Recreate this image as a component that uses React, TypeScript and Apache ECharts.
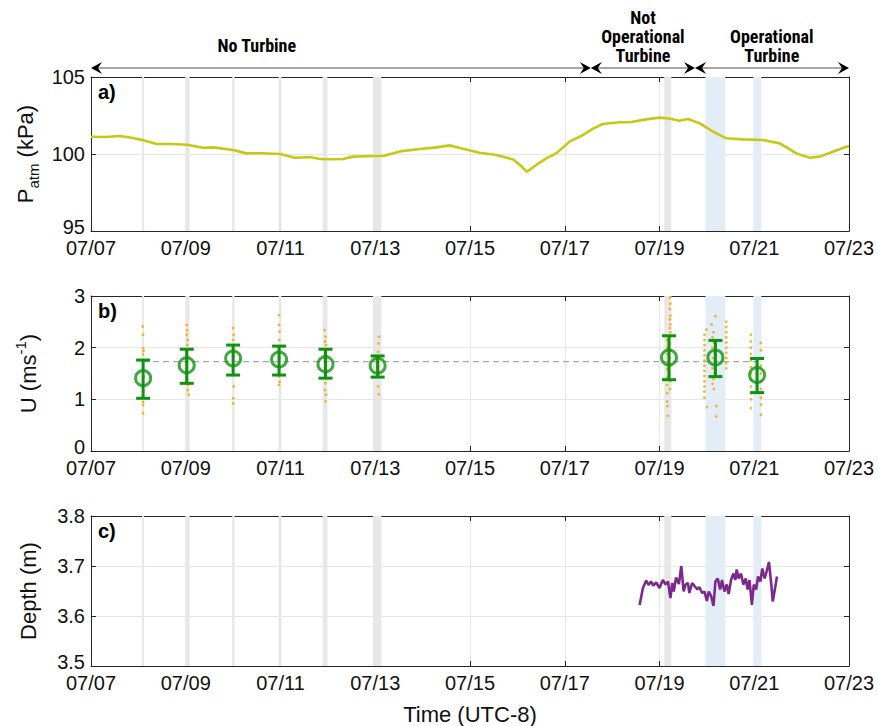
import React, { useEffect, useRef } from "react";
import * as echarts from "echarts";

// ---------- data ----------
const tickLabels = ["07/07", "07/09", "07/11", "07/13", "07/15", "07/17", "07/19", "07/21", "07/23"];

// days since 07/07 00:00
const pressureDays = [0, 0.3, 0.61, 0.85, 1.1, 1.39, 1.7, 2.02, 2.37, 2.58, 3.0, 3.28, 3.6, 3.99, 4.3, 4.62, 4.83, 5.1, 5.32, 5.53, 5.99, 6.17, 6.52, 6.94, 7.29, 7.57, 7.85, 8.2, 8.56, 8.91, 9.05, 9.2, 9.4, 9.61, 9.82, 10.1, 10.38, 10.6, 10.8, 11.16, 11.37, 11.72, 12.0, 12.2, 12.42, 12.6, 12.85, 13.13, 13.41, 13.76, 14.18, 14.54, 14.89, 15.17, 15.38, 15.66, 15.94, 16];
const pressureKPa = [101.12, 101.1, 101.17, 101.05, 100.9, 100.65, 100.65, 100.6, 100.41, 100.43, 100.26, 100.04, 100.05, 100.0, 99.76, 99.8, 99.68, 99.66, 99.68, 99.83, 99.87, 99.87, 100.17, 100.32, 100.43, 100.56, 100.34, 100.08, 99.93, 99.65, 99.3, 98.85, 99.29, 99.72, 100.04, 100.8, 101.23, 101.65, 101.95, 102.06, 102.06, 102.25, 102.36, 102.3, 102.16, 102.27, 101.99, 101.45, 101.02, 100.95, 100.91, 100.69, 100.04, 99.76, 99.83, 100.15, 100.47, 100.5];

const uMeanDays = [1.1, 2.02, 3.0, 3.97, 4.95, 6.05, 12.2, 13.18, 14.06];
const uMean = [1.41, 1.66, 1.79, 1.77, 1.68, 1.65, 1.81, 1.81, 1.47];
const uLow = [1.02, 1.31, 1.47, 1.47, 1.41, 1.43, 1.38, 1.44, 1.13];
const uHigh = [1.76, 1.97, 2.05, 2.03, 1.97, 1.84, 2.23, 2.14, 1.79];
const uOverallMean = 1.73;
const uMeanLineDays = [1.1, 14.06];

const uSamplesG1 = [[1.09, 2.41], [1.1, 2.25], [1.1, 1.99], [1.11, 1.94], [1.1, 1.87], [1.09, 1.72], [1.1, 1.57], [1.11, 1.45], [1.1, 1.34], [1.1, 1.15], [1.1, 0.95], [1.1, 0.89], [1.1, 0.73]];
const uSamplesG2 = [[2.02, 2.44], [2.03, 2.34], [2.02, 2.25], [2.04, 2.15], [2.03, 2.05], [2.02, 1.92], [2.05, 1.83], [2.03, 1.73], [2.02, 1.6], [2.04, 1.5], [2.03, 1.38], [2.05, 1.28], [2.04, 1.18], [2.06, 1.09]];
const uSamplesG3 = [[3.0, 2.38], [3.01, 2.25], [3.0, 2.15], [3.0, 1.99], [3.01, 1.85], [3.0, 1.67], [3.0, 1.47], [3.01, 1.25], [3.0, 1.02], [3.0, 0.92]];
const uSamplesG4 = [[3.97, 2.63], [3.97, 2.44], [3.98, 2.31], [3.97, 2.15], [3.97, 1.96], [3.98, 1.8], [3.97, 1.63], [3.97, 1.44], [3.98, 1.34], [3.97, 1.28]];
const uSamplesG5 = [[4.93, 2.34], [4.95, 2.21], [4.94, 2.12], [4.96, 2.05], [4.95, 1.96], [4.93, 1.86], [4.96, 1.76], [4.95, 1.63], [4.94, 1.5], [4.96, 1.41], [4.95, 1.31], [4.94, 1.18], [4.96, 1.09], [4.95, 0.96]];
const uSamplesG6 = [[6.08, 2.21], [6.07, 2.08], [6.06, 1.92], [6.08, 1.83], [6.07, 1.73], [6.06, 1.63], [6.08, 1.54], [6.07, 1.44], [6.06, 1.25], [6.08, 1.1]];
const uSamplesG7 = [[12.22, 2.97], [12.23, 2.85], [12.22, 2.75], [12.23, 2.62], [12.22, 2.55], [12.23, 2.45], [12.22, 2.38], [12.23, 2.3], [12.22, 2.22], [12.16, 2.15], [12.22, 2.08], [12.16, 2.0], [12.23, 1.95], [12.16, 1.88], [12.22, 1.8], [12.16, 1.72], [12.23, 1.65], [12.16, 1.58], [12.22, 1.5], [12.16, 1.42], [12.23, 1.35], [12.16, 1.28], [12.22, 1.2], [12.16, 1.12], [12.16, 0.96], [12.17, 0.87], [12.17, 0.68]];
const uSamplesG8 = [[12.95, 2.25], [12.95, 2.15], [12.95, 2.05], [12.95, 1.95], [12.95, 1.85], [12.95, 1.75], [12.95, 1.65], [12.95, 1.55], [12.95, 1.45], [12.95, 1.35], [12.95, 1.25], [12.95, 1.15], [12.95, 1.03], [12.99, 2.35], [13.0, 0.85], [13.1, 2.45], [13.14, 2.3], [13.12, 2.2], [13.15, 2.1], [13.12, 2.0], [13.16, 1.9], [13.13, 1.8], [13.15, 1.7], [13.12, 1.6], [13.16, 1.5], [13.14, 1.4], [13.12, 1.3], [13.15, 1.2], [13.2, 0.87], [13.2, 0.67], [13.18, 2.61], [13.41, 2.5], [13.41, 2.4], [13.41, 2.3], [13.41, 2.2], [13.41, 2.1], [13.41, 2.0], [13.41, 1.9], [13.41, 1.8], [13.41, 1.7], [13.41, 1.6]];
const uSamplesG9 = [[13.93, 2.25], [13.93, 2.12], [13.93, 2.0], [13.93, 1.88], [13.93, 1.75], [13.93, 1.62], [13.93, 1.5], [13.93, 1.38], [13.93, 1.25], [13.93, 1.12], [13.93, 1.0], [13.93, 0.83], [14.14, 2.09], [14.14, 1.95], [14.14, 1.8], [14.14, 1.65], [14.14, 1.5], [14.14, 1.35], [14.14, 1.2], [14.14, 1.03], [14.14, 0.9], [14.14, 0.7]];

const depthDays = [11.58, 11.65, 11.72, 11.77, 11.82, 11.87, 11.93, 12.0, 12.07, 12.13, 12.18, 12.23, 12.27, 12.3, 12.35, 12.41, 12.46, 12.51, 12.55, 12.6, 12.63, 12.69, 12.74, 12.8, 12.84, 12.9, 12.95, 13.0, 13.04, 13.09, 13.14, 13.18, 13.23, 13.28, 13.32, 13.37, 13.42, 13.46, 13.51, 13.56, 13.6, 13.63, 13.67, 13.72, 13.77, 13.82, 13.86, 13.9, 13.95, 13.99, 14.04, 14.08, 14.13, 14.17, 14.22, 14.25, 14.31, 14.36, 14.39, 14.44, 14.48];
const depthM = [3.622, 3.656, 3.671, 3.662, 3.669, 3.661, 3.667, 3.656, 3.672, 3.663, 3.669, 3.636, 3.666, 3.649, 3.677, 3.664, 3.7, 3.649, 3.663, 3.666, 3.646, 3.666, 3.66, 3.653, 3.658, 3.646, 3.649, 3.63, 3.649, 3.64, 3.62, 3.669, 3.675, 3.653, 3.672, 3.649, 3.663, 3.644, 3.672, 3.685, 3.672, 3.693, 3.675, 3.685, 3.663, 3.675, 3.653, 3.672, 3.622, 3.663, 3.653, 3.679, 3.669, 3.695, 3.675, 3.685, 3.708, 3.663, 3.629, 3.656, 3.679];

const greyBands = [[1.08, 1.12], [1.99, 2.08], [2.98, 3.03], [3.96, 4.02], [4.89, 4.99], [5.95, 6.13], [12.1, 12.25]];
const blueBands = [[12.97, 13.39], [13.98, 14.15]];

const periodBreaks = [0, 10.55, 12.75, 16];
const periodLabels = [["No Turbine"], ["Not", "Operational", "Turbine"], ["Operational", "Turbine"]];
const periodLabelDays = [3.5, 11.65, 14.37];

// ---------- styling ----------
const FONT = "Liberation Sans, Arial, Helvetica, sans-serif";
const NARROW = "Liberation Sans Narrow, Roboto Condensed, Liberation Sans, Arial, sans-serif";
const AX = "#262626";
const GRIDC = "#e6e6e6";
const GREEN = "#0f920f";
const ORANGE = "#f0a800";
const YELLOW = "#c8c814";
const PURPLE = "#7b2a8c";
const GREYBAND = "#e7e7e7";
const BLUEBAND = "#e2edf8";

const GL = 91, GW = 758;
const grids = [
  { left: GL, top: 77, width: GW, height: 154 },
  { left: GL, top: 296, width: GW, height: 155 },
  { left: GL, top: 516, width: GW, height: 154 },
];

const zip = (a: number[], b: number[]) => a.map((v, i) => [v, b[i]]);

export default function App() {
  const ref = useRef<HTMLDivElement>(null);
  useEffect(() => {
    document.body.style.margin = "0";
    const chart = echarts.init(ref.current!, undefined, { renderer: "svg" });

    const xAxes: any[] = [];
    const yAxes: any[] = [];
    const yCfg = [
      { min: 95, max: 105, interval: 5, fmt: (v: number) => String(v), name: "{a|P}{b|atm}{a| (kPa)}" },
      { min: 0, max: 3, interval: 1, fmt: (v: number) => String(v), name: "{a|U (ms}{c|-1}{a|)}" },
      { min: 3.5, max: 3.8, interval: 0.1, fmt: (v: number) => v.toFixed(1), name: "{a|Depth (m)}" },
    ];
    for (let i = 0; i < 3; i++) {
      xAxes.push({
        gridIndex: i, type: "value", min: 0, max: 16, interval: 2, position: "bottom",
        axisLine: { onZero: false, lineStyle: { color: AX, width: 1 } },
        axisTick: { inside: true, length: 5, lineStyle: { color: AX } },
        axisLabel: {
          formatter: (v: number) => tickLabels[Math.round(v / 2)], fontSize: 20, color: "#111",
          margin: 7, fontFamily: FONT, showMinLabel: true, showMaxLabel: true,
        },
        splitLine: { show: true, lineStyle: { color: GRIDC, width: 1 } },
        name: i === 2 ? "Time (UTC-8)" : "", nameLocation: "middle", nameGap: 37,
        nameTextStyle: { fontSize: 22, color: "#111", fontFamily: FONT },
      });
      xAxes.push({
        gridIndex: i, type: "value", min: 0, max: 16, interval: 2, position: "top",
        axisLine: { onZero: false, lineStyle: { color: AX, width: 1 } },
        axisTick: { inside: true, length: 5, lineStyle: { color: AX } },
        axisLabel: { show: false }, splitLine: { show: false },
      });
      const c = yCfg[i];
      yAxes.push({
        gridIndex: i, type: "value", min: c.min, max: c.max, interval: c.interval, position: "left",
        axisLine: { show: true, onZero: false, lineStyle: { color: AX, width: 1 } },
        axisTick: { show: true, inside: true, length: 5, lineStyle: { color: AX } },
        axisLabel: {
          formatter: (v: number) => (Math.abs(v - c.min) < 1e-9 ? `{lo|${c.fmt(v)}}` : c.fmt(v)),
          fontSize: 20, color: "#111", margin: 6, fontFamily: FONT,
          rich: { lo: { fontSize: 20, color: "#111", fontFamily: FONT, padding: [0, 0, 8, 0] } },
        },
        splitLine: { show: true, lineStyle: { color: GRIDC, width: 1 } },
        name: c.name, nameLocation: "middle", nameGap: 48, nameRotate: 90,
        nameTextStyle: {
          color: "#111", fontFamily: FONT,
          rich: {
            a: { fontSize: 22, lineHeight: 30, verticalAlign: "middle", fontFamily: FONT, color: "#111" },
            b: { fontSize: 15, lineHeight: 14, verticalAlign: "bottom", fontFamily: FONT, color: "#111" },
            c: { fontSize: 15, lineHeight: 14, verticalAlign: "top", fontFamily: FONT, color: "#111" },
          },
        },
      });
      yAxes.push({
        gridIndex: i, type: "value", min: c.min, max: c.max, interval: c.interval, position: "right",
        axisLine: { show: true, onZero: false, lineStyle: { color: AX, width: 1 } },
        axisTick: { show: true, inside: true, length: 5, lineStyle: { color: AX } },
        axisLabel: { show: false }, splitLine: { show: false },
      });
    }

    const bandData = [
      ...greyBands.map(([s, e]) => [{ xAxis: s, itemStyle: { color: GREYBAND } }, { xAxis: e }]),
      ...blueBands.map(([s, e]) => [{ xAxis: s, itemStyle: { color: BLUEBAND } }, { xAxis: e }]),
    ];

    const series: any[] = [];
    for (let i = 0; i < 3; i++) {
      series.push({
        type: "line", xAxisIndex: i * 2, yAxisIndex: i * 2, data: [], z: 1, silent: true,
        markArea: { silent: true, data: bandData, itemStyle: { opacity: 1 } },
      });
    }
    series.push({
      type: "line", xAxisIndex: 0, yAxisIndex: 0, data: zip(pressureDays, pressureKPa),
      showSymbol: false, lineStyle: { color: YELLOW, width: 2.6 }, z: 5,
    });
    const allSamples = [uSamplesG1, uSamplesG2, uSamplesG3, uSamplesG4, uSamplesG5, uSamplesG6, uSamplesG7, uSamplesG8, uSamplesG9].flat();
    series.push({
      type: "scatter", xAxisIndex: 2, yAxisIndex: 2, data: allSamples,
      symbol: "circle", symbolSize: 2.8, itemStyle: { color: ORANGE }, z: 4,
    });
    series.push({
      type: "line", xAxisIndex: 2, yAxisIndex: 2,
      data: uMeanLineDays.map((d) => [d, uOverallMean]),
      showSymbol: false, lineStyle: { color: "#a8a8a8", width: 1.2, type: [6, 4] }, z: 3,
    });
    series.push({
      type: "custom", xAxisIndex: 2, yAxisIndex: 2, z: 6,
      data: uMeanDays.map((d, i) => [d, uMean[i], uLow[i], uHigh[i]]),
      renderItem: (params: any, api: any) => {
        const x = api.value(0);
        const p = api.coord([x, api.value(2)]);
        const q = api.coord([x, api.value(3)]);
        const hw = 7;
        const st = { stroke: GREEN, lineWidth: 3 };
        return {
          type: "group",
          children: [
            { type: "line", shape: { x1: p[0], y1: p[1], x2: q[0], y2: q[1] }, style: st },
            { type: "line", shape: { x1: p[0] - hw, y1: p[1], x2: p[0] + hw, y2: p[1] }, style: st },
            { type: "line", shape: { x1: q[0] - hw, y1: q[1], x2: q[0] + hw, y2: q[1] }, style: st },
          ],
        };
      },
    });
    series.push({
      type: "scatter", xAxisIndex: 2, yAxisIndex: 2, z: 7,
      data: zip(uMeanDays, uMean), symbol: "circle", symbolSize: 15,
      itemStyle: { color: "rgba(0,0,0,0)", borderColor: GREEN, borderWidth: 3 },
    });
    series.push({
      type: "line", xAxisIndex: 4, yAxisIndex: 4, data: zip(depthDays, depthM),
      showSymbol: false, lineStyle: { color: PURPLE, width: 2.6 }, z: 5,
    });

    chart.setOption({
      animation: false,
      backgroundColor: "#ffffff",
      grid: grids,
      xAxis: xAxes,
      yAxis: yAxes,
      series,
    });

    // annotations built from the axis scale
    const px = (d: number) => chart.convertToPixel({ xAxisIndex: 0 }, d) as number;
    const yA = grids[0].top - 9;
    const graphic: any[] = [];
    const head = (xTip: number, dir: number) => ({
      type: "polygon",
      shape: { points: [[xTip, yA], [xTip - dir * 11, yA - 6], [xTip - dir * 7, yA], [xTip - dir * 11, yA + 6]] },
      style: { fill: "#000" }, z: 10,
    });
    for (let k = 0; k < periodBreaks.length - 1; k++) {
      const x0 = px(periodBreaks[k]);
      const x1 = px(periodBreaks[k + 1]);
      graphic.push({ type: "line", shape: { x1: x0 + 4, y1: yA, x2: x1 - 4, y2: yA }, style: { stroke: "#8a8a8a", lineWidth: 1.5 }, z: 9 });
      graphic.push(head(x0, -1));
      graphic.push(head(x1, 1));
    }
    const LSTEP = 19;
    periodLabels.forEach((lines, k) => {
      const bottomCenter = k === 0 ? 45 : yA - 13;
      lines.forEach((ln, j) => {
        graphic.push({
          type: "text", x: px(periodLabelDays[k]), y: bottomCenter - (lines.length - 1 - j) * LSTEP,
          style: { text: ln, fill: "#000", font: `bold 18px ${NARROW}`, align: "center", verticalAlign: "middle" },
          z: 10,
        });
      });
    });
    ["a)", "b)", "c)"].forEach((t, i) => {
      graphic.push({
        type: "text", x: grids[i].left + 7, y: grids[i].top + 5,
        style: { text: t, fill: "#000", font: `bold 20px ${FONT}`, align: "left", verticalAlign: "top" }, z: 10,
      });
    });
    chart.setOption({ graphic });

    return () => chart.dispose();
  }, []);
  return <div ref={ref} style={{ position: "fixed", left: 0, top: 0, width: 878, height: 726 }} />;
}
